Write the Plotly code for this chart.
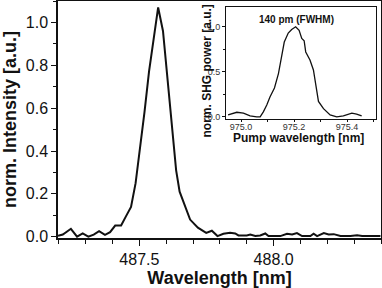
import plotly.graph_objects as go

# Main spectrum (SHG output)
main_wl = [487.197, 487.215, 487.245, 487.268, 487.289, 487.310, 487.330, 487.350,
           487.372, 487.391, 487.410, 487.432, 487.450, 487.469, 487.486, 487.503,
           487.519, 487.536, 487.553, 487.570, 487.588, 487.605, 487.622, 487.637,
           487.650, 487.667, 487.689, 487.718, 487.749, 487.770, 487.791, 487.813,
           487.838, 487.857, 487.869, 487.900, 487.913, 487.932, 487.950, 487.969,
           487.981, 488.025, 488.050, 488.069, 488.087, 488.106, 488.137, 488.149,
           488.162, 488.187, 488.205, 488.224, 488.249, 488.286, 488.311, 488.330,
           488.398]
main_int = [0.004, 0.010, 0.037, 0.000, 0.015, 0.000, 0.010, 0.026,
            0.009, 0.021, 0.052, 0.052, 0.095, 0.139, 0.250, 0.410,
            0.580, 0.770, 0.930, 1.070, 0.960, 0.730, 0.500, 0.310,
            0.210, 0.155, 0.080, 0.042, 0.018, 0.028, 0.003, 0.014,
            0.018, 0.015, 0.006, 0.006, 0.010, 0.003, 0.006, 0.015,
            0.003, 0.003, 0.014, 0.010, 0.017, 0.003, 0.003, 0.014,
            0.003, 0.017, 0.010, 0.012, 0.003, 0.003, 0.007, 0.003,
            0.003]

# Inset: SHG power vs pump wavelength
inset_wl = [974.951, 974.984, 975.009, 975.034, 975.059, 975.072, 975.084, 975.097,
            975.109, 975.126, 975.141, 975.154, 975.163, 975.178, 975.191, 975.206,
            975.219, 975.229, 975.238, 975.244, 975.260, 975.273, 975.282, 975.292,
            975.311, 975.336, 975.361, 975.386, 975.418, 975.436, 975.455]
inset_pow = [0.02, 0.05, 0.04, 0.01, 0.00, 0.00, 0.055, 0.13,
             0.22, 0.32, 0.48, 0.69, 0.83, 0.93, 0.97, 1.00,
             0.96, 0.87, 0.845, 0.72, 0.63, 0.52, 0.35, 0.17,
             0.09, 0.02, 0.00, 0.01, 0.04, 0.03, 0.01]

FONT = "Liberation Sans, Arial, sans-serif"
INK = "#111111"

fig = go.Figure()
fig.add_trace(go.Scatter(x=main_wl, y=main_int, mode="lines",
                         line=dict(color=INK, width=2), xaxis="x", yaxis="y",
                         showlegend=False))
fig.add_trace(go.Scatter(x=inset_wl, y=inset_pow, mode="lines",
                         line=dict(color=INK, width=1.3), xaxis="x2", yaxis="y2",
                         showlegend=False))

fig.update_layout(
    width=382, height=288,
    margin=dict(l=58, r=1, t=1, b=50),
    paper_bgcolor="white", plot_bgcolor="white",
    font=dict(family=FONT, color=INK),
    xaxis=dict(
        domain=[0, 1], range=[487.197, 488.40], tick0=487.5, dtick=0.5,
        tickformat=".1f", ticks="outside", ticklen=6, tickwidth=1.3, tickcolor=INK,
        minor=dict(dtick=0.1, ticks="outside", ticklen=4, tickwidth=1.2, tickcolor=INK),
        showline=True, linecolor=INK, linewidth=1.5, mirror=True,
        showgrid=False, zeroline=False, automargin=False,
        tickfont=dict(size=16, family=FONT, color=INK),
        title=dict(text="<b>Wavelength [nm]</b>", font=dict(size=18, family=FONT, color=INK),
                   standoff=4),
    ),
    yaxis=dict(
        domain=[0, 1], range=[-0.006, 1.10], tick0=0, dtick=0.2,
        tickformat=".1f", ticks="outside", ticklen=5, tickwidth=1.3, tickcolor=INK,
        minor=dict(dtick=0.1, ticks="outside", ticklen=3, tickwidth=1.2, tickcolor=INK),
        showline=True, linecolor=INK, linewidth=1.5, mirror=True,
        showgrid=False, zeroline=False, automargin=False,
        tickfont=dict(size=16, family=FONT, color=INK),
        title=dict(text="<b>norm. Intensity [a.u.]</b>", font=dict(size=18, family=FONT, color=INK),
                   standoff=4),
    ),
    xaxis2=dict(
        domain=[0.520, 0.9836], anchor="y2", range=[974.943, 975.508],
        tick0=975.0, dtick=0.2, tickformat=".1f",
        ticks="outside", ticklen=2, tickwidth=1, tickcolor=INK,
        minor=dict(dtick=0.1, ticks="outside", ticklen=2, tickwidth=1, tickcolor=INK),
        showline=True, linecolor=INK, linewidth=1, mirror=True,
        showgrid=False, zeroline=False, automargin=False, ticklabelstandoff=-3,
        tickfont=dict(size=9, family=FONT, color="#333333"),
    ),
    yaxis2=dict(
        domain=[0.502, 0.975], anchor="x2", range=[-0.025, 1.22],
        tick0=0, dtick=0.5, tickformat=".1f",
        ticks="outside", ticklen=3, tickwidth=1, tickcolor=INK,
        minor=dict(dtick=0.25, ticks="outside", ticklen=2, tickwidth=1, tickcolor=INK),
        showline=True, linecolor=INK, linewidth=1, mirror=True,
        showgrid=False, zeroline=False, automargin=False,
        tickfont=dict(size=9, family=FONT, color="#333333"),
    ),
    annotations=[
        dict(text="<b>140 pm (FWHM)</b>", xref="x2", yref="y2",
             x=975.21, y=1.085, showarrow=False,
             font=dict(size=10, family=FONT, color=INK)),
        dict(text="<b>Pump wavelength [nm]</b>", xref="paper", yref="paper",
             x=0.744, y=0.422, xanchor="center", yanchor="middle", showarrow=False,
             font=dict(size=12, family=FONT, color=INK)),
        dict(text="<b>norm. SHG power [a.u.]</b>", xref="paper", yref="paper",
             x=0.4598, y=0.7046, xanchor="center", yanchor="middle", textangle=-90,
             showarrow=False, font=dict(size=12, family=FONT, color=INK)),
    ],
)

fig.write_html("out.html", config={"displayModeBar": False},
               post_script="document.body.style.margin='0px';")
